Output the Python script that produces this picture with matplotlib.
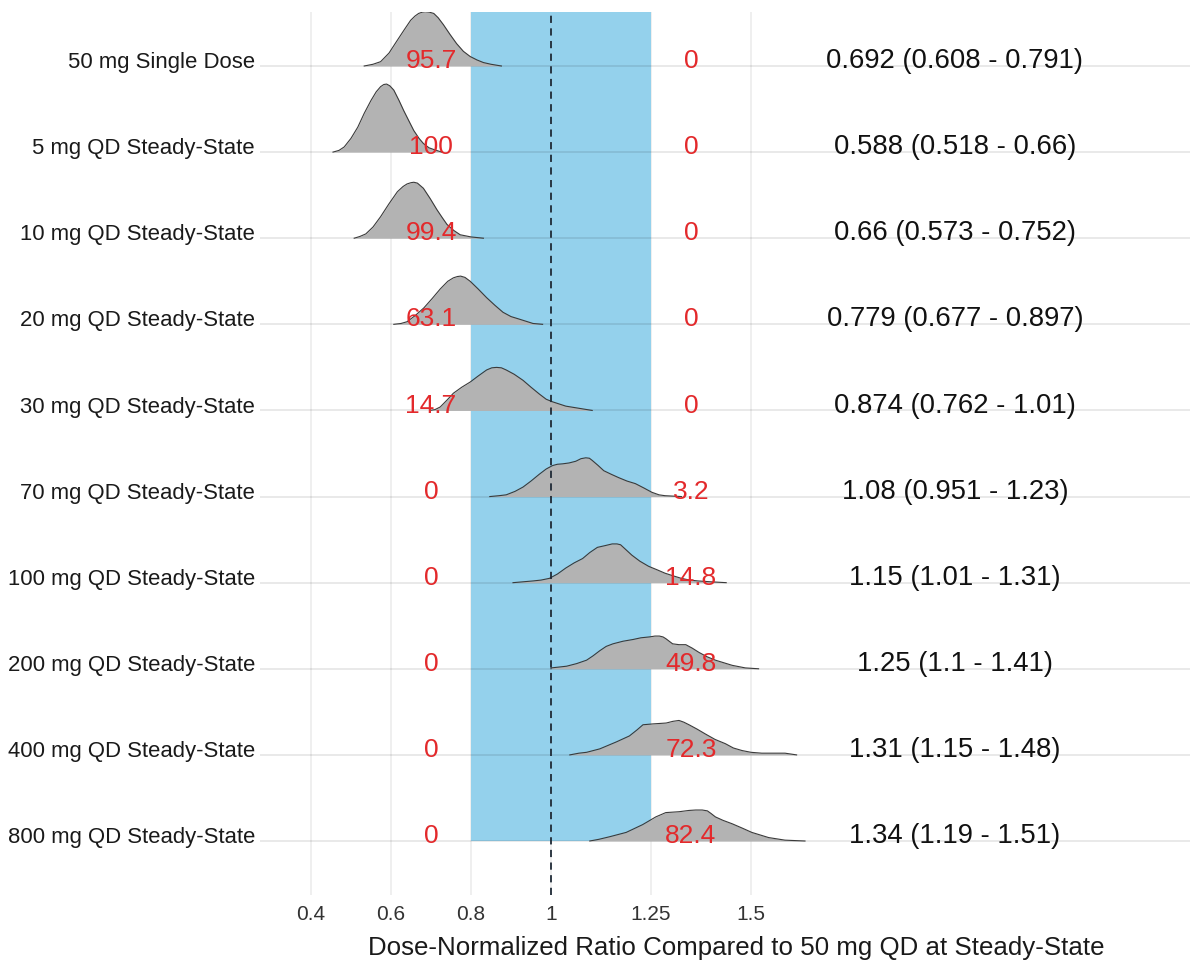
import matplotlib
matplotlib.use("Agg")
import matplotlib.pyplot as plt

plt.rcParams['font.family'] = ['Liberation Sans', 'DejaVu Sans']

# ---------------- data ----------------
categories = ["50 mg Single Dose", "5 mg QD Steady-State", "10 mg QD Steady-State",
              "20 mg QD Steady-State", "30 mg QD Steady-State", "70 mg QD Steady-State",
              "100 mg QD Steady-State", "200 mg QD Steady-State", "400 mg QD Steady-State",
              "800 mg QD Steady-State"]

pct_below = ["95.7", "100", "99.4", "63.1", "14.7", "0", "0", "0", "0", "0"]
pct_above = ["0", "0", "0", "0", "0", "3.2", "14.8", "49.8", "72.3", "82.4"]
summary = ["0.692 (0.608 - 0.791)", "0.588 (0.518 - 0.66)", "0.66 (0.573 - 0.752)",
           "0.779 (0.677 - 0.897)", "0.874 (0.762 - 1.01)", "1.08 (0.951 - 1.23)",
           "1.15 (1.01 - 1.31)", "1.25 (1.1 - 1.41)", "1.31 (1.15 - 1.48)",
           "1.34 (1.19 - 1.51)"]

# density profiles (ratio value, relative density height)
density_x = [
    [0.533, 0.555, 0.574, 0.595, 0.616, 0.633, 0.649, 0.660, 0.669, 0.678, 0.686, 0.696,
     0.707, 0.718, 0.731, 0.747, 0.764, 0.781, 0.798, 0.815, 0.831, 0.850, 0.876],
    [0.455, 0.470, 0.483, 0.500, 0.517, 0.533, 0.550, 0.563, 0.574, 0.582, 0.589, 0.597,
     0.607, 0.620, 0.632, 0.645, 0.657, 0.670, 0.681, 0.695, 0.707, 0.727],
    [0.508, 0.522, 0.537, 0.555, 0.574, 0.595, 0.616, 0.630, 0.640, 0.650, 0.657, 0.666,
     0.681, 0.698, 0.715, 0.728, 0.740, 0.757, 0.773, 0.800, 0.831],
    [0.607, 0.625, 0.640, 0.660, 0.682, 0.703, 0.723, 0.742, 0.756, 0.766, 0.774, 0.785,
     0.798, 0.818, 0.839, 0.860, 0.880, 0.900, 0.921, 0.955, 0.979],
    [0.698, 0.710, 0.723, 0.740, 0.756, 0.777, 0.798, 0.818, 0.839, 0.852, 0.864, 0.876,
     0.888, 0.908, 0.930, 0.950, 0.971, 0.988, 1.004, 1.037, 1.070, 1.103],
    [0.847, 0.870, 0.888, 0.910, 0.930, 0.950, 0.971, 0.988, 1.004, 1.016, 1.029, 1.045,
     1.062, 1.075, 1.087, 1.096, 1.103, 1.118, 1.132, 1.150, 1.169, 1.190, 1.211, 1.232,
     1.252, 1.270, 1.285, 1.326],
    [0.905, 0.930, 0.955, 0.975, 0.996, 1.016, 1.037, 1.058, 1.079, 1.097, 1.116, 1.135,
     1.153, 1.165, 1.174, 1.188, 1.202, 1.222, 1.244, 1.265, 1.285, 1.305, 1.326, 1.347,
     1.368, 1.400, 1.438],
    [1.000, 1.000, 1.020, 1.039, 1.064, 1.089, 1.105, 1.122, 1.138, 1.155, 1.180, 1.205,
     1.225, 1.246, 1.260, 1.271, 1.280, 1.287, 1.304, 1.320, 1.337, 1.353, 1.370, 1.390,
     1.411, 1.432, 1.453, 1.486, 1.519],
    [1.047, 1.070, 1.089, 1.122, 1.163, 1.196, 1.215, 1.230, 1.255, 1.288, 1.305, 1.320,
     1.332, 1.345, 1.365, 1.387, 1.410, 1.436, 1.456, 1.478, 1.500, 1.527, 1.585, 1.614],
    [1.097, 1.120, 1.147, 1.188, 1.229, 1.262, 1.287, 1.320, 1.345, 1.362, 1.378, 1.391,
     1.400, 1.411, 1.430, 1.453, 1.478, 1.502, 1.544, 1.585, 1.635],
]
density_h = [
    [0.00, 0.02, 0.05, 0.15, 0.30, 0.42, 0.53, 0.58, 0.61, 0.625, 0.63, 0.625, 0.61, 0.56,
     0.48, 0.37, 0.26, 0.17, 0.11, 0.07, 0.04, 0.02, 0.00],
    [0.00, 0.02, 0.06, 0.16, 0.29, 0.45, 0.60, 0.70, 0.76, 0.785, 0.79, 0.77, 0.72, 0.60,
     0.48, 0.36, 0.25, 0.16, 0.10, 0.05, 0.03, 0.00],
    [0.00, 0.02, 0.05, 0.13, 0.25, 0.40, 0.54, 0.60, 0.63, 0.645, 0.65, 0.64, 0.58, 0.46,
     0.33, 0.24, 0.16, 0.09, 0.04, 0.015, 0.00],
    [0.00, 0.01, 0.03, 0.10, 0.19, 0.30, 0.41, 0.50, 0.54, 0.555, 0.56, 0.545, 0.50, 0.41,
     0.31, 0.22, 0.14, 0.09, 0.06, 0.01, 0.00],
    [0.00, 0.01, 0.04, 0.12, 0.20, 0.27, 0.33, 0.40, 0.47, 0.495, 0.50, 0.495, 0.47, 0.42,
     0.35, 0.27, 0.19, 0.13, 0.10, 0.05, 0.025, 0.00],
    [0.00, 0.01, 0.02, 0.06, 0.11, 0.18, 0.26, 0.32, 0.36, 0.375, 0.38, 0.39, 0.41, 0.44,
     0.45, 0.445, 0.42, 0.36, 0.30, 0.26, 0.22, 0.18, 0.15, 0.10, 0.05, 0.02, 0.01, 0.00],
    [0.00, 0.01, 0.02, 0.03, 0.05, 0.10, 0.17, 0.23, 0.28, 0.35, 0.41, 0.43, 0.45, 0.45,
     0.44, 0.38, 0.32, 0.25, 0.19, 0.15, 0.11, 0.08, 0.05, 0.03, 0.02, 0.01, 0.00],
    [0.00, 0.01, 0.02, 0.03, 0.06, 0.10, 0.15, 0.21, 0.26, 0.29, 0.32, 0.34, 0.36, 0.37,
     0.38, 0.38, 0.37, 0.35, 0.29, 0.28, 0.28, 0.24, 0.19, 0.14, 0.10, 0.07, 0.04, 0.01,
     0.00],
    [0.00, 0.02, 0.03, 0.07, 0.15, 0.22, 0.29, 0.35, 0.36, 0.37, 0.39, 0.40, 0.38, 0.35,
     0.30, 0.24, 0.18, 0.13, 0.08, 0.05, 0.03, 0.02, 0.02, 0.00],
    [0.00, 0.02, 0.05, 0.10, 0.19, 0.28, 0.33, 0.34, 0.355, 0.36, 0.36, 0.35, 0.32, 0.28,
     0.24, 0.20, 0.15, 0.10, 0.04, 0.01, 0.00],
]

x_ticks = [0.4, 0.6, 0.8, 1.0, 1.25, 1.5]
x_tick_labels = ["0.4", "0.6", "0.8", "1", "1.25", "1.5"]
band_low, band_high = 0.8, 1.25
reference_ratio = 1.0
x_label = "Dose-Normalized Ratio Compared to 50 mg QD at Steady-State"

# ---------------- figure ----------------
W, H = 1194, 966
fig = plt.figure(figsize=(W / 100, H / 100), dpi=100)
ax = fig.add_axes([260 / W, (H - 895) / H, 930 / W, 883 / H])
n = len(categories)
rows = [n - i for i in range(n)]  # top category at highest y

y_top = 10.627
ax.set_xlim(0.2725, 2.5975)
ax.set_ylim(0.373, y_top)

for s in ax.spines.values():
    s.set_visible(False)

# vertical grid
for xt in x_ticks:
    ax.axvline(xt, color='#EBEBEB', lw=1.1, zorder=0)

# blue band
ax.fill_between([band_low, band_high], 1, y_top, color='#94D1EC', lw=0, zorder=1)

# horizontal grid lines at the ridge baselines
for r in rows:
    ax.axhline(r, color='black', alpha=0.11, lw=1.1, zorder=2)

# ridges
for i in range(n):
    r = rows[i]
    xs = density_x[i]
    ys = [r + h for h in density_h[i]]
    ax.fill_between(xs, r, ys, color='#B3B3B3', lw=0, zorder=3)
    ax.plot(xs, ys, color='#3A3A3A', lw=0.8, zorder=4, solid_joinstyle='round')

# dashed reference line
ax.axvline(reference_ratio, color='#1F2A36', lw=1.3, ls=(0, (4, 3)), zorder=5)

# texts
red = '#E3292B'
for i in range(n):
    r = rows[i]
    ax.text(0.70, r - 0.025, pct_below[i], color=red, fontsize=19, ha='center',
            va='baseline', zorder=6)
    ax.text(1.35, r - 0.025, pct_above[i], color=red, fontsize=19, ha='center',
            va='baseline', zorder=6)
    ax.text(2.01, r - 0.025, summary[i], color='#111111', fontsize=19.8, ha='center',
            va='baseline', zorder=6)
    ax.text(0.26, r - 0.025, categories[i], color='#1A1A1A', fontsize=15.9, ha='right',
            va='baseline', zorder=6, clip_on=False)

ax.set_yticks([])
ax.set_xticks(x_ticks)
ax.set_xticklabels(x_tick_labels, fontsize=15, color='#333333')
ax.tick_params(axis='x', length=0, pad=7)
fig.text(736 / W, 1 - 948 / H, x_label, fontsize=18.6, color='#1A1A1A',
         ha='center', va='center')

fig.savefig("out.png", dpi=100)
